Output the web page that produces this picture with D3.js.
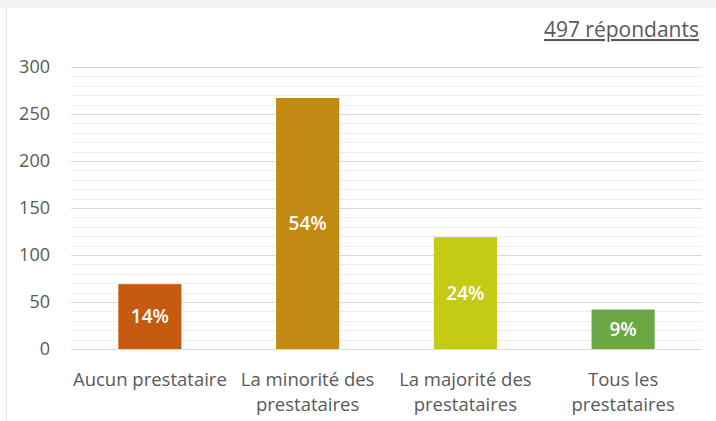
<!DOCTYPE html>
<html>
<head>
<meta charset="utf-8">
<script src="https://cdn.jsdelivr.net/npm/d3@7"></script>
<style>
  body { margin: 0; background: #ffffff; }
  svg { display: block; font-family: "Open Sans", sans-serif; }
</style>
</head>
<body>
<div id="chart"></div>
<script>
const categories = [["Aucun prestataire"], ["La minorité des", "prestataires"], ["La majorité des", "prestataires"], ["Tous les", "prestataires"]];
const values = [69, 267, 119, 42];
const percentLabels = ["14%", "54%", "24%", "9%"];
const barColors = ["#c55a11", "#c28a12", "#c3cb14", "#6aa845"];
const yTicks = [0, 50, 100, 150, 200, 250, 300];
const title = "497 répondants";

const width = 716, height = 421;
const svg = d3.select('#chart').append('svg')
    .attr('width', width)
    .attr('height', height);

// frame: grey top band, thin left rule
svg.append('rect').attr('x', 0).attr('y', 0).attr('width', width).attr('height', 8).attr('fill', '#f2f2f2');
svg.append('line').attr('x1', 6.5).attr('x2', 6.5).attr('y1', 8).attr('y2', height)
    .attr('stroke', '#e4e4e4').attr('stroke-width', 1);

const x = d3.scaleBand()
    .domain(d3.range(values.length))
    .range([71, 702])
    .paddingInner(0.6)
    .paddingOuter(0.3);

const y = d3.scaleLinear().domain([0, 300]).range([349, 67]);

// minor gridlines
svg.append('g').selectAll('line')
    .data(d3.range(0, 301, 10).filter(v => v % 50 !== 0))
    .join('line')
    .attr('x1', 71).attr('x2', 702)
    .attr('y1', d => Math.round(y(d)) + 0.5).attr('y2', d => Math.round(y(d)) + 0.5)
    .attr('stroke', '#eeeeee').attr('stroke-width', 1);

// y axis with major gridlines
const yAxis = svg.append('g')
    .attr('transform', 'translate(71,0)')
    .call(d3.axisLeft(y).tickValues(yTicks).tickSize(-631).tickPadding(21));
yAxis.select('.domain').remove();
yAxis.selectAll('.tick line').attr('stroke', '#d9d9d9');
yAxis.selectAll('.tick text')
    .attr('fill', '#595959')
    .attr('font-size', 18)
    .attr('font-family', '"Open Sans", sans-serif');

// bars
svg.append('g').selectAll('rect')
    .data(values)
    .join('rect')
    .attr('x', (d, i) => x(i))
    .attr('y', d => y(d))
    .attr('width', x.bandwidth())
    .attr('height', d => y(0) - y(d))
    .attr('fill', (d, i) => barColors[i]);

// value labels
svg.append('g').selectAll('text')
    .data(values)
    .join('text')
    .attr('x', (d, i) => x(i) + x.bandwidth() / 2)
    .attr('y', d => (y(d) + y(0)) / 2)
    .attr('dy', '0.35em')
    .attr('text-anchor', 'middle')
    .attr('fill', '#ffffff')
    .attr('font-size', 19)
    .attr('font-weight', 600)
    .text((d, i) => percentLabels[i]);

// category labels
const catG = svg.append('g').selectAll('text')
    .data(categories)
    .join('text')
    .attr('text-anchor', 'middle')
    .attr('fill', '#595959')
    .attr('font-size', 18.5);
catG.selectAll('tspan')
    .data((d, i) => d.map(line => ({ line, i })))
    .join('tspan')
    .attr('x', d => x(d.i) + x.bandwidth() / 2)
    .attr('y', (d, j) => 386 + j * 25)
    .text(d => d.line);

// title
svg.append('text')
    .attr('x', 699)
    .attr('y', 37)
    .attr('text-anchor', 'end')
    .attr('fill', '#595959')
    .attr('font-size', 21)
    .attr('text-decoration', 'underline')
    .text(title);
</script>
</body>
</html>
